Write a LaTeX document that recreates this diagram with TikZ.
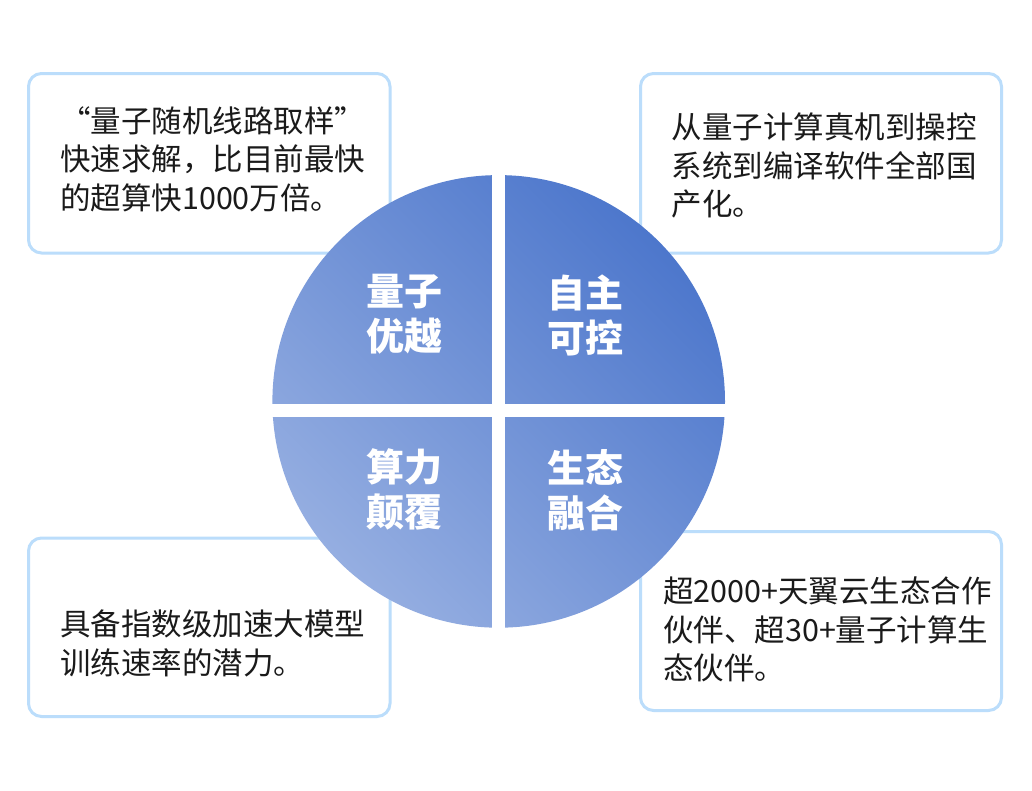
\documentclass[tikz,border=0pt]{standalone}
\usepackage{fontspec}
\setmainfont{Noto Sans CJK SC}
\definecolor{boxblue}{HTML}{BBDDFB}
\definecolor{qdark}{HTML}{4D77CC}
\definecolor{qlight}{HTML}{95AEE1}
\definecolor{txt}{HTML}{1A1A1A}
\begin{document}
\begin{tikzpicture}[x=1pt,y=1pt,
  infobox/.style={draw=boxblue, line width=3pt, fill=white, rounded corners=13pt},
  infotext/.style={anchor=north west, inner sep=0pt, align=left, text=txt,
    font=\fontsize{30.5}{38.5}\selectfont},
  quadlabel/.style={inner sep=0pt, align=center, text=white,
    font=\fontsize{38}{45}\selectfont\bfseries}]
\useasboundingbox (0,0) rectangle (1032,-790);
\fill[white] (0,0) rectangle (1032,-790);
% info boxes
\draw[infobox] (28.5,-73.5) rectangle (390,-253);
\draw[infobox] (640.5,-73.5) rectangle (1001.5,-253);
\draw[infobox] (28.5,-538) rectangle (390,-716.5);
\draw[infobox] (640.5,-531.5) rectangle (1001.5,-710.5);
% texts
\node[infotext] (t1) at (60,-106) {“量子随机线路取样”\\快速求解，比目前最快\\的超算快1000万倍。};
\node[infotext] (t2) at (671.5,-113) {从量子计算真机到操控\\系统到编译软件全部国\\产化。};
\node[infotext] (t3) at (60,-610) {具备指数级加速大模型\\训练速率的潜力。};
\node[infotext] (t4) at (663,-577) {超2000+天翼云生态合作\\伙伴、超30+量子计算生\\态伙伴。};
% circle
\shade[top color=qdark, bottom color=qlight, shading angle=-45] (498.7,-401.4) circle[radius=226.3];
\fill[white] (492.3,-170) rectangle (505,-634);
\fill[white] (266,-404) rectangle (731,-416.7);
% labels
\node[quadlabel] (q1) at (404.7,-314.5) {量子\\优越};
\node[quadlabel] (q2) at (585,-315) {自主\\可控};
\node[quadlabel] (q3) at (404.5,-489) {算力\\颠覆};
\node[quadlabel] (q4) at (585.5,-490.3) {生态\\融合};
\end{tikzpicture}
\end{document}
